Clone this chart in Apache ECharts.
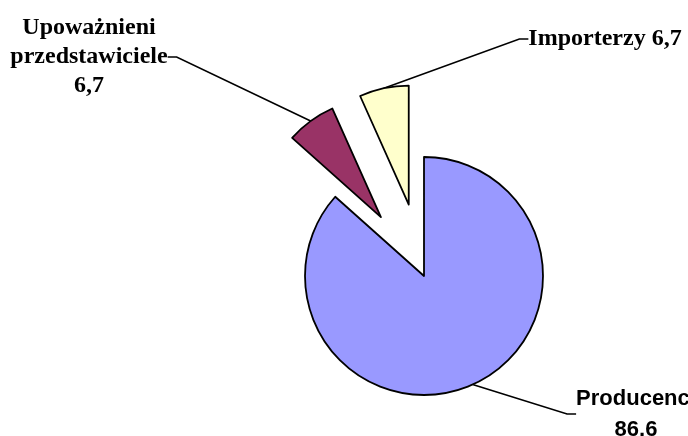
<!DOCTYPE html>
<html>
<head>
<meta charset="utf-8">
<script src="https://cdn.jsdelivr.net/npm/echarts@6/dist/echarts.min.js"></script>
<style>
  html, body { margin: 0; padding: 0; background: #fff; }
  #chart { width: 688px; height: 436px; }
</style>
</head>
<body>
<div id="chart"></div>
<script>
// data
const categories = ['Producenci', 'Upoważnieni przedstawiciele', 'Importerzy']
const values = [86.6, 6.7, 6.7]
const exploded = [false, true, true]

const sliceColors = ['#9999FF', '#993366', '#FFFFCC']
// how each label is broken into lines
const labelNames = ['Producenci', 'Upoważnieni\nprzedstawiciele', 'Importerzy']
const labelJoin = ['\n', '\n', ' ']
// where the labels sit (center x, middle y)
const labelSpots = [[636, 414], [89, 57], [605, 39]]

const pieCenter = [424, 276]
const pieRadius = 119
const explodeOffset = 73

const serifLabel = {
  fontFamily: '"Liberation Serif", "Times New Roman", serif',
  fontWeight: 'bold',
  fontSize: 24,
  lineHeight: 29,
  color: '#000'
}
const sansLabel = {
  fontFamily: '"Liberation Sans", Arial, sans-serif',
  fontWeight: 'bold',
  fontSize: 22,
  lineHeight: 31,
  color: '#000'
}

const total = values.reduce((a, b) => a + b, 0)

// one pie per slice, so an exploded slice can get its own center
function slicePie(k) {
  const before = values.slice(0, k).reduce((a, b) => a + b, 0)
  const mid = (before + values[k] / 2) / total * Math.PI * 2
  const off = exploded[k] ? explodeOffset : 0
  const center = [pieCenter[0] + Math.sin(mid) * off, pieCenter[1] - Math.cos(mid) * off]

  return {
    type: 'pie',
    name: categories[k],
    center: center,
    radius: pieRadius,
    startAngle: 90,
    clockwise: true,
    avoidLabelOverlap: false,
    silent: true,
    emphasis: { disabled: true },
    labelLine: {
      length: 20,
      length2: 9,
      smooth: false,
      lineStyle: { color: '#000', width: 1.6 }
    },
    labelLayout: (params) => params.dataIndex === k ? {
      x: labelSpots[k][0],
      y: labelSpots[k][1],
      align: 'center',
      verticalAlign: 'middle'
    } : {},
    data: categories.map((name, i) => ({
      name: name,
      value: values[i],
      itemStyle: i === k
        ? { color: sliceColors[i], borderColor: '#000', borderWidth: 1.8 }
        : { color: 'rgba(0,0,0,0)', borderWidth: 0 },
      label: i === k
        ? Object.assign({
            show: true,
            position: 'outside',
            align: 'center',
            formatter: (p) => labelNames[i] + labelJoin[i] + p.value.toFixed(1).replace('.', ',')
          }, i === 0 ? sansLabel : serifLabel)
        : { show: false },
      labelLine: { show: i === k }
    }))
  }
}

const chart = echarts.init(document.getElementById('chart'))

chart.setOption({
  animation: false,
  series: categories.map((c, k) => slicePie(k))
})
</script>
</body>
</html>
